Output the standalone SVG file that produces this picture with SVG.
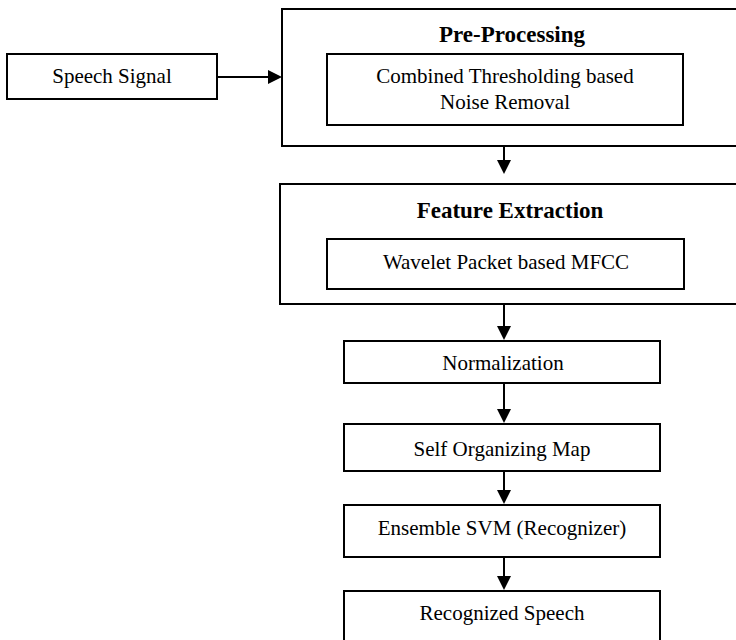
<svg xmlns="http://www.w3.org/2000/svg" width="736" height="640" viewBox="0 0 736 640">
<style>
.box{fill:#fff;stroke:#000;stroke-width:2}
.t{font-family:"Liberation Serif","Times New Roman",serif;font-size:21px;text-anchor:middle;fill:#000}
.b{font-family:"Liberation Serif","Times New Roman",serif;font-size:23px;font-weight:bold;text-anchor:middle;fill:#000}
.c{stroke:#000;stroke-width:2;fill:none;marker-end:url(#ah)}
</style>
<defs>
<marker id="ah" markerUnits="userSpaceOnUse" markerWidth="14" markerHeight="14" refX="8" refY="7" orient="auto">
<path d="M0,0 L14,7 L0,14 z" fill="#000"/>
</marker>
</defs>
<rect width="736" height="640" fill="#fff"/>
<g id="speech-signal">
<rect class="box" x="7" y="54" width="210" height="45"/>
<text class="t" x="112" y="83">Speech Signal</text>
</g>
<g id="pre-processing">
<rect class="box" x="282" y="9" width="460" height="137"/>
<text class="b" x="512" y="42">Pre-Processing</text>
<rect class="box" x="327" y="54" width="356" height="71"/>
<text class="t" x="505" y="83">Combined Thresholding based</text>
<text class="t" x="505" y="109">Noise Removal</text>
</g>
<g id="feature-extraction">
<rect class="box" x="280" y="184" width="462" height="120"/>
<text class="b" x="510" y="218">Feature Extraction</text>
<rect class="box" x="327" y="239" width="357" height="50"/>
<text class="t" x="506" y="269">Wavelet Packet based MFCC</text>
</g>
<g id="normalization">
<rect class="box" x="344" y="341" width="316" height="42"/>
<text class="t" x="503" y="370">Normalization</text>
</g>
<g id="som">
<rect class="box" x="344" y="424" width="316" height="47"/>
<text class="t" x="502" y="456">Self Organizing Map</text>
</g>
<g id="ensemble-svm">
<rect class="box" x="344" y="505" width="316" height="52"/>
<text class="t" x="502" y="535">Ensemble SVM (Recognizer)</text>
</g>
<g id="recognized-speech">
<rect class="box" x="344" y="591" width="316" height="60"/>
<text class="t" x="502" y="620">Recognized Speech</text>
</g>
<g id="connectors">
<line class="c" x1="217" y1="77" x2="276" y2="77"/>
<line class="c" x1="504" y1="146" x2="504" y2="168"/>
<line class="c" x1="504" y1="304" x2="504" y2="334"/>
<line class="c" x1="504" y1="383" x2="504" y2="417"/>
<line class="c" x1="504" y1="471" x2="504" y2="498"/>
<line class="c" x1="504" y1="557" x2="504" y2="584"/>
</g>
</svg>
